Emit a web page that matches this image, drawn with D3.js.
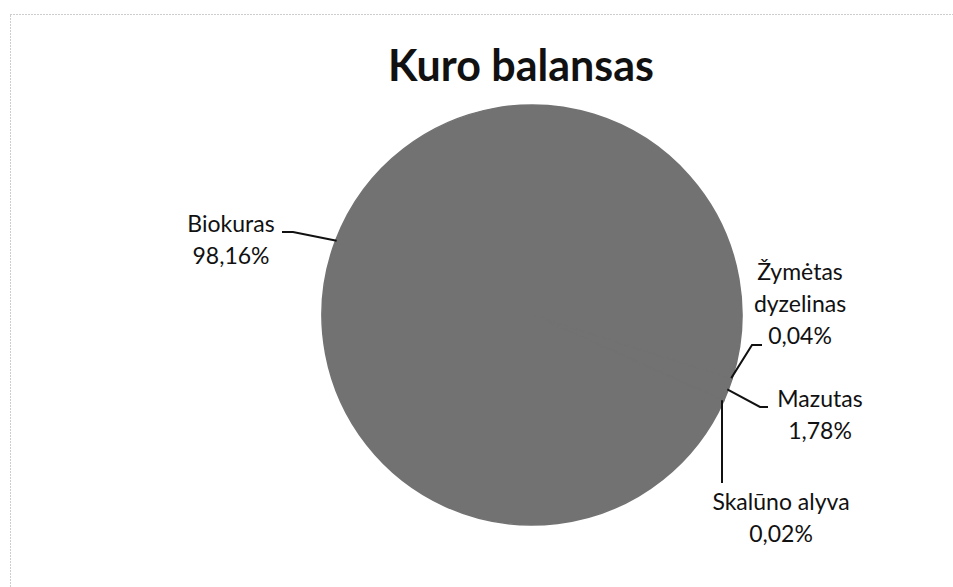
<!DOCTYPE html>
<html>
<head>
<meta charset="utf-8">
<script src="https://cdn.jsdelivr.net/npm/d3@7"></script>
<style>
  body { margin:0; background:#fff; }
  text { font-family: Lato, "Open Sans", sans-serif; fill:#111; }
</style>
</head>
<body>
<div class="canvas"></div>
<script>
// data
const categories = ['Žymėtas dyzelinas', 'Mazutas', 'Skalūno alyva', 'Biokuras'];
const values = [0.04, 1.78, 0.02, 98.16];
const valueLabels = ['0,04%', '1,78%', '0,02%', '98,16%'];

const dim = { width:953, height:587, radius:210 };
const cent = { x:532, y:315 };

// label layout: text lines centre, first baseline, leader knee
const layout = [
    { lines:['Žymėtas', 'dyzelinas'], x:800, y:280, knee:[[762,345],[752,345]] },
    { lines:['Mazutas'], x:820, y:407, knee:[[768,407],[760,407]] },
    { lines:['Skalūno alyva'], x:781, y:510, knee:[[722,483]] },
    { lines:['Biokuras'], x:231, y:232, knee:[[282,232],[293,232]] }
];

const svg = d3.select('.canvas')
    .append('svg')
    .attr('width',dim.width)
    .attr('height',dim.height);

// dotted frame
svg.append('rect')
    .attr('x',10.5).attr('y',14.5)
    .attr('width',980).attr('height',620)
    .attr('fill','none')
    .attr('stroke','#9a9a9a')
    .attr('stroke-dasharray','1,2');

svg.append('text')
    .attr('x',521).attr('y',81)
    .attr('text-anchor','middle')
    .style('font-size','43px')
    .style('font-weight','bold')
    .text('Kuro balansas');

const graph = svg.append('g')
    .attr('transform',`translate(${cent.x},${cent.y})`);

const startA = 107.5*Math.PI/180;
const pie = d3.pie()
    .sort(null)
    .startAngle(startA)
    .endAngle(startA + 2*Math.PI)
    .value(d=>d.value);

const data = categories.map((c,i)=>({ name:c, value:values[i], label:valueLabels[i] }));
const angles = pie(data);

const arcPath = d3.arc()
    .outerRadius(dim.radius)
    .innerRadius(0);

// every slice is the same grey, so stroke hides the seams
graph.selectAll('path')
    .data(angles)
    .enter()
    .append('path')
    .attr('d',arcPath)
    .attr('fill','#727272')
    .attr('stroke','#727272')
    .attr('stroke-width',1.5)
    .attr('stroke-linejoin','round');

// leader lines
const edgePoint = (d, r) => {
    const a = (d.startAngle + d.endAngle)/2;
    return [cent.x + r*Math.sin(a), cent.y - r*Math.cos(a)];
};
const line = d3.line();
angles.forEach((d,i)=>{
    const pts = layout[i].knee.slice();
    let p = edgePoint(d, dim.radius-1);
    if (i === 2) p = [pts[0][0], p[1]];
    pts.push(p);
    svg.append('path')
        .attr('d',line(pts))
        .attr('fill','none')
        .attr('stroke','#111')
        .attr('stroke-width',2);
});

// labels
angles.forEach((d,i)=>{
    const L = layout[i];
    const t = svg.append('text')
        .attr('text-anchor','middle')
        .style('font-size','23px');
    L.lines.concat([d.data.label]).forEach((s,j)=>{
        t.append('tspan')
            .attr('x',L.x)
            .attr('y',L.y + j*32)
            .text(s);
    });
});
</script>
</body>
</html>
